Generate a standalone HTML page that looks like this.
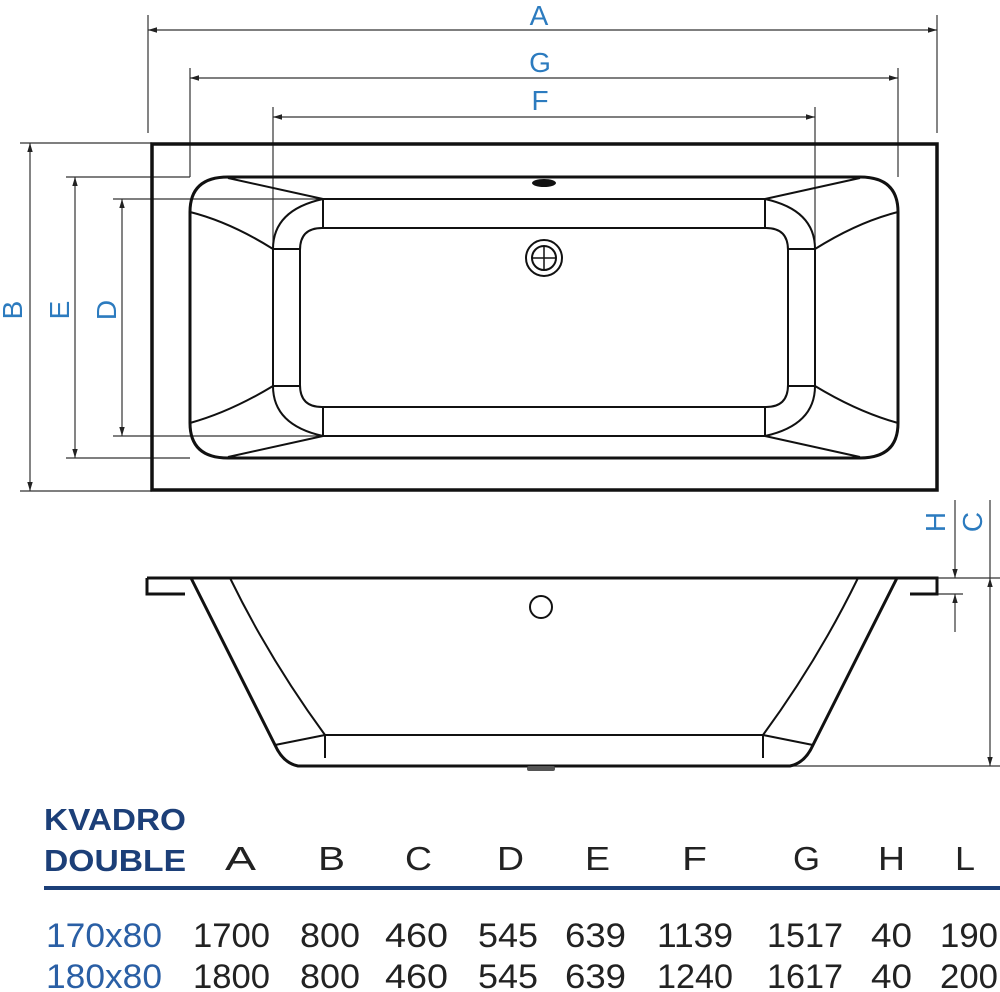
<!DOCTYPE html>
<html><head><meta charset="utf-8"><style>html,body{margin:0;padding:0;background:#fff}svg{display:block}</style></head>
<body>
<svg width="1000" height="992" viewBox="0 0 1000 992" xmlns="http://www.w3.org/2000/svg">
<defs>
<marker id="ar" viewBox="0 0 10 10" refX="10" refY="5" markerWidth="9" markerHeight="9" orient="auto-start-reverse" markerUnits="userSpaceOnUse"><path d="M0,2 L10,5 L0,8 z" fill="#222"/></marker>
</defs>
<g stroke="#333" stroke-width="1.2" fill="none">
<line x1="148" y1="15" x2="148" y2="133"/><line x1="937" y1="15" x2="937" y2="133"/>
<line x1="148" y1="30" x2="937" y2="30" marker-start="url(#ar)" marker-end="url(#ar)"/>
<line x1="190" y1="68" x2="190" y2="177"/><line x1="898" y1="68" x2="898" y2="177"/>
<line x1="190" y1="78" x2="898" y2="78" marker-start="url(#ar)" marker-end="url(#ar)"/>
<line x1="273" y1="107" x2="273" y2="249"/><line x1="815" y1="107" x2="815" y2="249"/>
<line x1="273" y1="117" x2="815" y2="117" marker-start="url(#ar)" marker-end="url(#ar)"/>
<line x1="20" y1="143" x2="152" y2="143"/><line x1="20" y1="491" x2="152" y2="491"/>
<line x1="30" y1="143" x2="30" y2="491" marker-start="url(#ar)" marker-end="url(#ar)"/>
<line x1="66" y1="177" x2="190" y2="177"/><line x1="66" y1="458" x2="190" y2="458"/>
<line x1="75" y1="177" x2="75" y2="458" marker-start="url(#ar)" marker-end="url(#ar)"/>
<line x1="113" y1="199" x2="323" y2="199"/><line x1="113" y1="436" x2="323" y2="436"/>
<line x1="122" y1="199" x2="122" y2="436" marker-start="url(#ar)" marker-end="url(#ar)"/>
<line x1="937" y1="578" x2="1000" y2="578"/><line x1="937" y1="594" x2="963" y2="594"/>
<line x1="790" y1="766" x2="1000" y2="766"/>
<line x1="955" y1="500" x2="955" y2="578" marker-end="url(#ar)"/>
<line x1="955" y1="632" x2="955" y2="594" marker-end="url(#ar)"/>
<line x1="990" y1="500" x2="990" y2="578"/>
<line x1="990" y1="578" x2="990" y2="766" marker-start="url(#ar)" marker-end="url(#ar)"/>
</g>
<g font-family="Liberation Sans, sans-serif" font-size="28" fill="#2c7bbf" text-anchor="middle">
<text x="539" y="25">A</text><text x="540" y="72">G</text><text x="540" y="110">F</text>
<text transform="translate(22,310) rotate(-90)">B</text>
<text transform="translate(69,310) rotate(-90)">E</text>
<text transform="translate(116,310) rotate(-90)">D</text>
<text transform="translate(945,522) rotate(-90)">H</text>
<text transform="translate(982,522) rotate(-90)">C</text>
</g>
<g stroke="#111" fill="none" stroke-width="2">
<rect x="152" y="144" width="785" height="346" stroke-width="3.5"/>
<path d="M228,177 L860,177 Q898,177 898,212 L898,423 Q898,458 860,458 L228,458 Q190,458 190,423 L190,212 Q190,177 228,177 Z" stroke-width="3"/>
<path d="M228,178 L323,199 L765,199 L860,178"/>
<path d="M228,457 L323,436 L765,436 L860,457"/>
<path d="M323,199 L323,228 M765,199 L765,228 M323,436 L323,407 M765,436 L765,407"/>
<path d="M322,228 L766,228 Q788,228 788,250 L788,385 Q788,407 766,407 L322,407 Q300,407 300,385 L300,250 Q300,228 322,228 Z"/>
<path d="M323,199 Q273,210 273,249 L273,386 Q273,425 323,436"/>
<path d="M765,199 Q815,210 815,249 L815,386 Q815,425 765,436"/>
<path d="M273,249 L300,249 M273,386 L300,386 M815,249 L788,249 M815,386 L788,386"/>
<path d="M190,212 Q230,222 273,249 M190,423 Q230,412 273,386"/>
<path d="M898,212 Q858,222 815,249 M898,423 Q858,412 815,386"/>
<circle cx="544" cy="258" r="18"/><circle cx="544" cy="258" r="12"/>
<path d="M532,258 L556,258 M544,246 L544,270" stroke-width="1.5"/>
</g>
<ellipse cx="544" cy="183" rx="12" ry="4" fill="#111"/>
<g stroke="#111" fill="none" stroke-width="2">
<path d="M147,578 L937,578 L937,594 L910,594 M147,578 L147,594 L185,594" stroke-width="3"/>
<path d="M191,578 L275,745 Q283,763 298,766 L790,766 Q805,763 813,745 L897,578" stroke-width="3"/>
<path d="M230,578 Q270,660 325,735 L763,735 Q818,660 858,578"/>
<path d="M325,735 L325,758 M763,735 L763,758 M325,735 L275,745 M763,735 L813,745"/>
<circle cx="541" cy="607" r="11"/>
</g>
<rect x="527" y="766" width="28" height="5" rx="2" fill="#555"/>
<g font-family="Liberation Sans, sans-serif" font-weight="bold" font-size="31" fill="#1c3f78">
<text x="44" y="830" textLength="142" lengthAdjust="spacingAndGlyphs">KVADRO</text>
<text x="44" y="871" textLength="142" lengthAdjust="spacingAndGlyphs">DOUBLE</text>
</g>
<rect x="44" y="886" width="956" height="4" fill="#1c3f78"/>
<g font-family="Liberation Sans, sans-serif" font-size="33" fill="#222">
<text x="225" y="870" textLength="31" lengthAdjust="spacingAndGlyphs">A</text>
<text x="318" y="870" textLength="27" lengthAdjust="spacingAndGlyphs">B</text>
<text x="405" y="870" textLength="27" lengthAdjust="spacingAndGlyphs">C</text>
<text x="497" y="870" textLength="27" lengthAdjust="spacingAndGlyphs">D</text>
<text x="585" y="870" textLength="25" lengthAdjust="spacingAndGlyphs">E</text>
<text x="682" y="870" textLength="25" lengthAdjust="spacingAndGlyphs">F</text>
<text x="793" y="870" textLength="27" lengthAdjust="spacingAndGlyphs">G</text>
<text x="878" y="870" textLength="27" lengthAdjust="spacingAndGlyphs">H</text>
<text x="955" y="870" textLength="20" lengthAdjust="spacingAndGlyphs">L</text>
</g>
<g font-family="Liberation Sans, sans-serif" font-size="34" fill="#222">
<text x="46" y="947" textLength="116" lengthAdjust="spacingAndGlyphs" fill="#2a5fa5">170x80</text>
<text x="193" y="947" textLength="77" lengthAdjust="spacingAndGlyphs">1700</text>
<text x="300" y="947" textLength="60" lengthAdjust="spacingAndGlyphs">800</text>
<text x="385" y="947" textLength="63" lengthAdjust="spacingAndGlyphs">460</text>
<text x="478" y="947" textLength="60" lengthAdjust="spacingAndGlyphs">545</text>
<text x="565" y="947" textLength="61" lengthAdjust="spacingAndGlyphs">639</text>
<text x="657" y="947" textLength="76" lengthAdjust="spacingAndGlyphs">1139</text>
<text x="767" y="947" textLength="76" lengthAdjust="spacingAndGlyphs">1517</text>
<text x="871" y="947" textLength="41" lengthAdjust="spacingAndGlyphs">40</text>
<text x="940" y="947" textLength="58" lengthAdjust="spacingAndGlyphs">190</text>
<text x="46" y="988" textLength="116" lengthAdjust="spacingAndGlyphs" fill="#2a5fa5">180x80</text>
<text x="193" y="988" textLength="77" lengthAdjust="spacingAndGlyphs">1800</text>
<text x="300" y="988" textLength="60" lengthAdjust="spacingAndGlyphs">800</text>
<text x="385" y="988" textLength="63" lengthAdjust="spacingAndGlyphs">460</text>
<text x="478" y="988" textLength="60" lengthAdjust="spacingAndGlyphs">545</text>
<text x="565" y="988" textLength="61" lengthAdjust="spacingAndGlyphs">639</text>
<text x="657" y="988" textLength="76" lengthAdjust="spacingAndGlyphs">1240</text>
<text x="767" y="988" textLength="76" lengthAdjust="spacingAndGlyphs">1617</text>
<text x="871" y="988" textLength="41" lengthAdjust="spacingAndGlyphs">40</text>
<text x="940" y="988" textLength="58" lengthAdjust="spacingAndGlyphs">200</text>
</g>
</svg>
</body></html>
